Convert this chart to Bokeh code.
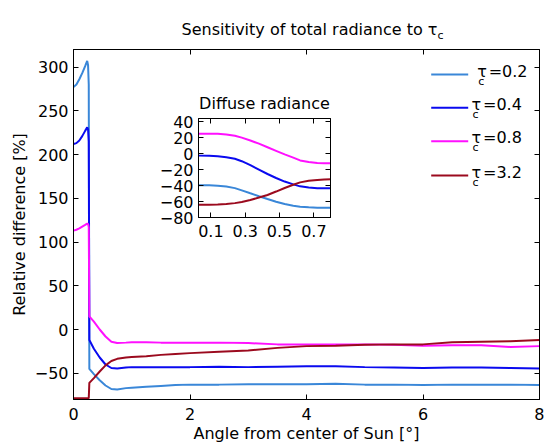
from bokeh.plotting import figure
from bokeh.models import Label, BoxAnnotation, LinearAxis, FixedTicker, Range1d
from bokeh.embed import file_html
from bokeh.resources import INLINE

FONT = "DejaVu Sans"
FS = "16px"

# ---------------- data ----------------
angle = [0, 0.05, 0.1, 0.15, 0.2, 0.235, 0.25, 0.262, 0.272, 0.35, 0.45, 0.55, 0.65, 0.75,
         0.9, 1.0, 1.25, 1.5, 1.75, 2.0, 2.5, 3.0, 3.5, 4.0, 4.5, 5.0, 5.5, 6.0, 6.5, 7.0, 7.5, 8.0]
tau_02 = [277, 280, 286, 293, 301, 307, 302, 280, -45, -51, -58, -64, -68, -68.5,
          -67, -66.5, -65.5, -64.5, -63.5, -63, -63, -62.5, -62.5, -62.5, -62, -63, -63, -63.5, -63, -63, -63, -63.5]
tau_04 = [212, 213, 216, 221, 227, 231, 229, 215, -12, -22, -32, -40, -44, -44.5,
          -43.5, -43, -43, -43, -43, -43, -42.5, -43, -42.5, -42, -42, -43, -43.5, -44, -43.5, -43.5, -44, -44.5]
tau_08 = [113, 114, 115.5, 117.5, 119.5, 121, 120.5, 117, 15, 9, 0, -8, -14, -15.5,
          -15, -14.5, -14.5, -15, -15, -15, -15, -15.5, -17, -17, -17, -17, -17.5, -18.5, -18, -18, -20, -19]
tau_32 = [-78.5, -78.5, -78.5, -78.5, -78.5, -78.5, -78.5, -78.5, -61, -55.5, -48, -41, -36, -33.5,
          -32, -31.5, -30.5, -29, -28, -27, -25.5, -24, -21, -19, -18.5, -17.5, -17, -17, -14.5, -14, -13.5, -12]

inset_angle = [0.03, 0.09, 0.14, 0.19, 0.24, 0.28, 0.33, 0.38, 0.43, 0.48, 0.53, 0.58, 0.62, 0.67, 0.72, 0.76, 0.8]
diff_02 = [-39.6, -39.7, -40.2, -41.3, -43.2, -46, -49.7, -53.3, -56.8, -60.2, -63.2, -65.3, -66.5, -67.3, -67.8, -67.9, -67.9]
diff_04 = [-2.5, -2.8, -3.4, -4.5, -6.5, -9.5, -14.5, -20, -25.5, -30.5, -35, -38.5, -41, -42.5, -43.3, -43.4, -43.4]
diff_08 = [25, 25, 24.8, 24, 22.5, 20, 16.5, 12.5, 8, 3.5, -1, -5, -8.5, -10.5, -11.8, -12, -12]
diff_32 = [-64, -64, -63.6, -63, -62, -60.5, -58, -55, -51.8, -47.5, -43, -39, -36, -34, -33, -32.4, -32]

tau_labels = ["0.2", "0.4", "0.8", "3.2"]
colors = ["#3a87d8", "#0a0aef", "#ff10ff", "#9b0a1e"]

x_ticks = [0, 2, 4, 6, 8]
x_tick_labels = ["0", "2", "4", "6", "8"]
y_ticks = [-50, 0, 50, 100, 150, 200, 250, 300]
y_tick_labels = ["\u221250", "0", "50", "100", "150", "200", "250", "300"]
inset_x_ticks = [0.1, 0.3, 0.5, 0.7]
inset_x_tick_labels = ["0.1", "0.3", "0.5", "0.7"]
inset_y_ticks = [-80, -60, -40, -20, 0, 20, 40]
inset_y_tick_labels = ["\u221280", "\u221260", "\u221240", "\u221220", "0", "20", "40"]

title_text = "Sensitivity of total radiance to \u03c4"
inset_title = "Diffuse radiance"
x_label = "Angle from center of Sun [\u00b0]"
y_label = "Relative difference [%]"


def style_axis(ax, ticks, labels, show_labels=True):
    ax.ticker = FixedTicker(ticks=ticks)
    ax.major_tick_in = 5
    ax.major_tick_out = 0
    ax.minor_tick_in = 0
    ax.minor_tick_out = 0
    ax.axis_line_color = "black"
    ax.axis_line_width = 1
    ax.major_tick_line_color = "black"
    ax.axis_label = None
    ax.axis_label_standoff = 0
    ax.axis_label_text_font = FONT
    ax.axis_label_text_font_size = FS
    ax.axis_label_text_font_style = "normal"
    ax.axis_label_text_color = "black"
    ax.major_label_text_font = FONT
    if show_labels:
        ax.major_label_overrides = {t: l for t, l in zip(ticks, labels)}
        ax.major_label_text_font_size = FS
        ax.major_label_text_color = "black"
        ax.major_label_standoff = 5
    else:
        ax.major_label_text_font_size = "1px"
        ax.major_label_text_color = None
        ax.major_label_text_alpha = 0
        ax.major_label_standoff = 0


def page_pos(fig, left, top):
    fig.styles = {"position": "absolute", "left": f"{left}px", "top": f"{top}px"}


# ---------------- main figure (in normal flow, at page 0,0) ----------------
# frame: x 73..539, y 49..399 on the page
p = figure(width=544, height=445, output_backend="svg", toolbar_location=None,
           x_range=Range1d(0, 8), y_range=Range1d(-80, 320),
           min_border_left=73, min_border_right=5, min_border_top=49, min_border_bottom=46)
p.title.visible = False
p.xgrid.visible = False
p.ygrid.visible = False
p.outline_line_color = "black"
p.outline_line_width = 1
p.background_fill_color = "white"
p.border_fill_color = "white"

style_axis(p.xaxis[0], x_ticks, x_tick_labels)
style_axis(p.yaxis[0], y_ticks, y_tick_labels)
p.xaxis[0].axis_label = x_label
p.yaxis[0].axis_label = y_label
p.xaxis[0].major_label_standoff = 8
p.xaxis[0].axis_label_standoff = 1
p.yaxis[0].axis_label_standoff = 3

top_ax = LinearAxis()
style_axis(top_ax, x_ticks, x_tick_labels, show_labels=False)
p.add_layout(top_ax, "above")
right_ax = LinearAxis()
style_axis(right_ax, y_ticks, y_tick_labels, show_labels=False)
p.add_layout(right_ax, "right")

for vals, c in zip([tau_02, tau_04, tau_08, tau_32], colors):
    p.line(angle, vals, line_color=c, line_width=2)

# ---------------- inset figure ----------------
# frame: x 198..330, y 118..217 on the page
inset = figure(width=202, height=149, output_backend="svg", toolbar_location=None,
               x_range=Range1d(0.028, 0.797), y_range=Range1d(-80, 44),
               min_border_left=60, min_border_right=10, min_border_top=10, min_border_bottom=40)
inset.title.visible = False
inset.xgrid.visible = False
inset.ygrid.visible = False
inset.outline_line_color = "black"
inset.outline_line_width = 1
inset.background_fill_color = "white"
inset.border_fill_alpha = 0
style_axis(inset.xaxis[0], inset_x_ticks, inset_x_tick_labels)
style_axis(inset.yaxis[0], inset_y_ticks, inset_y_tick_labels)
inset.xaxis[0].major_label_standoff = 7
in_top = LinearAxis()
style_axis(in_top, inset_x_ticks, inset_x_tick_labels, show_labels=False)
inset.add_layout(in_top, "above")
in_right = LinearAxis()
style_axis(in_right, inset_y_ticks, inset_y_tick_labels, show_labels=False)
inset.add_layout(in_right, "right")

for vals, c in zip([diff_02, diff_04, diff_08, diff_32], colors):
    inset.line(inset_angle, vals, line_color=c, line_width=2)
page_pos(inset, 138, 108)

# ---------------- text overlay (titles, legend) ----------------
# frame covers the whole page; screen units: x from left, y from bottom (445 - page y)
ov = figure(width=544, height=445, output_backend="svg", toolbar_location=None,
            x_range=Range1d(0, 544), y_range=Range1d(0, 445),
            x_axis_location=None, y_axis_location=None, min_border=0)
ov.title.visible = False
ov.xgrid.visible = False
ov.ygrid.visible = False
ov.outline_line_color = None
ov.background_fill_alpha = 0
ov.border_fill_alpha = 0
H = 445


def txt(x, y_page, text, size=FS, align="left"):
    ov.add_layout(Label(x=x, y=H - y_page, x_units="screen", y_units="screen", text=text,
                        text_font=FONT, text_font_size=size, text_align=align,
                        text_baseline="alphabetic", text_color="black"))


# main title with subscript
txt(437, 29, title_text, align="right")
txt(437, 35, "c", size="11px")

# inset title
txt(264, 102.7, inset_title, align="center")

# legend
row_line_y = [74, 107.3, 140.7, 175]
tau_x = [476.7, 471, 471, 471]
for lab, c, ly, tx in zip(tau_labels, colors, row_line_y, tau_x):
    ov.add_layout(BoxAnnotation(left=430.7, right=467.7, bottom=H - ly - 1, top=H - ly + 1,
                                left_units="screen", right_units="screen",
                                top_units="screen", bottom_units="screen",
                                fill_color=c, fill_alpha=1, line_alpha=0))
    txt(tx, ly - 3.3, "\u03c4")
    txt(tx + 1, ly + 6.7, "c", size="11px")
    txt(tx + 11.5, ly - 3.3, "=" + lab)
page_pos(ov, 0, 0)

open("out.html", "w").write(file_html([p, inset, ov], INLINE))
